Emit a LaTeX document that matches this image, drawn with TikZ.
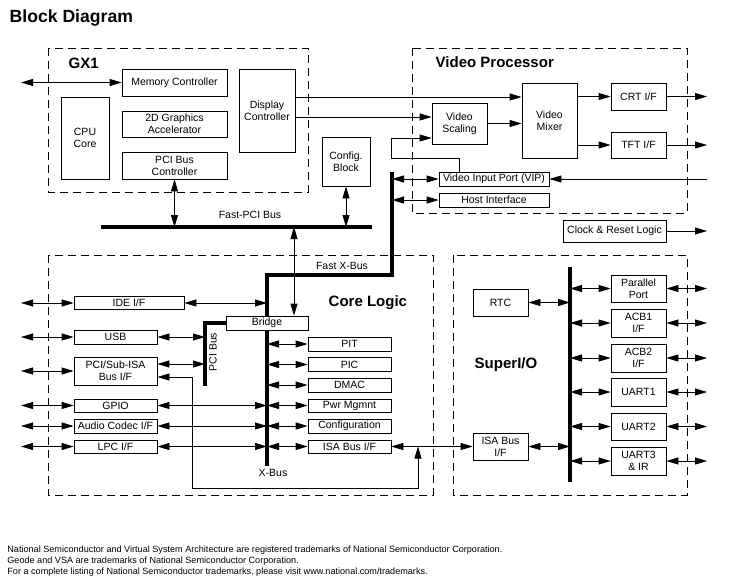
\documentclass[tikz,border=0pt]{standalone}
\usepackage{fontspec}
\setmainfont{Liberation Sans}
\usetikzlibrary{arrows.meta}

\begin{document}
\begin{tikzpicture}[x=1pt,y=-1pt,line width=0.8pt,
  block/.style={draw,fill=white,inner sep=0pt,align=center,font=\fontsize{10.5}{12}\selectfont},
  frame/.style={draw,dash pattern=on 8pt off 5pt},
  bus/.style={line width=4pt},
  head/.style={anchor=base west,font=\fontsize{15}{18}\bfseries},
  lbl/.style={font=\fontsize{10.5}{12}\selectfont},
  >={Triangle[length=12pt,width=7pt]}]
  \useasboundingbox (0,0) rectangle (730,583);
  \node[anchor=base west,font=\fontsize{17.6}{20}\bfseries] (titel) at (6,23) {Block Diagram};
  % frames
  \draw[frame] (48,48) rectangle (308,192);
  \draw[frame] (412,48) rectangle (687,213);
  \draw[frame] (48,255) rectangle (433,495);
  \draw[frame] (453,255) rectangle (687,495);
  \node[head] (gx1) at (65,69) {GX1};
  \node[head] (vp) at (432,68) {Video Processor};
  \node[head] (cl) at (325,306) {Core Logic};
  \node[head] (sio) at (471,368) {SuperI/O};
  % free ends and bus corners
  \coordinate (lft) at (21,0);
  \coordinate (rgt) at (707,0);
  \coordinate (fpci-w) at (101,227);
  \coordinate (fpci-e) at (372,227);
  \coordinate (fb) at (294,227);
  \coordinate (fxb-top) at (392,172);
  \coordinate (fxb-knee) at (392,275);
  \coordinate (xb-knee) at (267,275);
  \coordinate (xb-end) at (267,466);
  \coordinate (pb-start) at (228,323);
  \coordinate (pb-knee) at (205,323);
  \coordinate (pb-end) at (205,386);
  \coordinate (sb-top) at (570,267);
  \coordinate (sb-end) at (570,482);
  \coordinate (dv1) at (295,97);
  \coordinate (dv2) at (295,117);
  \coordinate (vl-a) at (391,138);
  \coordinate (vl-b) at (391,158);
  \coordinate (vl-c) at (459,158);
  \coordinate (ret-b) at (192,488);
  \coordinate (ret-c) at (418,488);
  % buses
  \draw[bus] (fpci-w) -- (fpci-e);
  \draw[bus] (fxb-top) -- (fxb-knee) -- (xb-knee) -- (xb-end);
  \draw[bus] (pb-start) -- (pb-knee) -- (pb-end);
  \draw[bus] (sb-top) -- (sb-end);
  \node[lbl] (fpcilbl) at (250,215) {Fast-PCI Bus};
  \node[lbl] (fxblbl) at (342,266) {Fast X-Bus};
  \node[lbl] (xblbl) at (273,473) {X-Bus};
  \node[lbl,rotate=90] (pblbl) at (213,352) {PCI Bus};
  % GX1
  \node[block,minimum width=105,minimum height=27] (memctl) at (174.5,82.5) {Memory Controller};
  \node[block,minimum width=48,minimum height=82] (cpu) at (85,138) {CPU\\Core};
  \node[block,minimum width=105,minimum height=26] (gfx) at (174.5,124) {2D Graphics\\Accelerator};
  \node[block,minimum width=105,minimum height=27] (pcictl) at (174.5,165.5) {PCI Bus\\Controller};
  \node[block,minimum width=56,minimum height=83] (disp) at (267,110.5) {Display\\Controller};
  \node[block,minimum width=48,minimum height=49] (cfgblk) at (346,161.5) {Config.\\Block};
  % video processor
  \node[block,minimum width=55,minimum height=41] (scal) at (459.5,123.5) {Video\\Scaling};
  \node[block,minimum width=55,minimum height=75] (mix) at (549.5,120.5) {Video\\Mixer};
  \node[block,minimum width=55,minimum height=27] (crt) at (638.5,96.5) {CRT I/F};
  \node[block,minimum width=55,minimum height=26] (tft) at (638.5,145) {TFT I/F};
  \node[block,minimum width=110,minimum height=14] (vip) at (494,179) {Video Input Port (VIP)};
  \node[block,minimum width=110,minimum height=14] (host) at (494,200) {Host Interface};
  \node[block,minimum width=103,minimum height=22] (clk) at (614.5,231) {Clock \& Reset Logic};
  % core logic
  \node[block,minimum width=110,minimum height=13] (ide) at (129,303) {IDE I/F};
  \node[block,minimum width=82,minimum height=14] (bridge) at (267,323) {Bridge};
  \node[block,minimum width=83,minimum height=14] (usb) at (115.5,337) {USB};
  \node[block,minimum width=83,minimum height=28] (pcisub) at (115.5,371) {PCI/Sub-ISA\\Bus I/F};
  \node[block,minimum width=83,minimum height=13] (gpio) at (115.5,405.5) {GPIO};
  \node[block,minimum width=83,minimum height=14] (audio) at (115.5,426) {Audio Codec I/F};
  \node[block,minimum width=83,minimum height=13] (lpc) at (115.5,446.5) {LPC I/F};
  \node[block,minimum width=83,minimum height=14] (pit) at (349.5,344) {PIT};
  \node[block,minimum width=83,minimum height=14] (pic) at (349.5,364.5) {PIC};
  \node[block,minimum width=83,minimum height=14] (dmac) at (349.5,385) {DMAC};
  \node[block,minimum width=83,minimum height=13] (pwr) at (349.5,405.5) {Pwr Mgmnt};
  \node[block,minimum width=83,minimum height=14] (conf) at (349.5,426) {Configuration};
  \node[block,minimum width=83,minimum height=13] (isa) at (349.5,446.5) {ISA Bus I/F};
  \coordinate (ps-up) at ([yshift=7pt]pcisub.east);
  \coordinate (ps-dn) at ([yshift=-6pt]pcisub.east);
  % superI/O
  \node[block,minimum width=55,minimum height=27] (rtc) at (500.5,302.5) {RTC};
  \node[block,minimum width=55,minimum height=27] (sioisa) at (500.5,446.5) {ISA Bus\\I/F};
  \node[block,minimum width=55,minimum height=27] (par) at (638.5,288.5) {Parallel\\Port};
  \node[block,minimum width=55,minimum height=28] (acb1) at (638.5,323) {ACB1\\I/F};
  \node[block,minimum width=55,minimum height=28] (acb2) at (638.5,358) {ACB2\\I/F};
  \node[block,minimum width=55,minimum height=28] (uart1) at (638.5,392) {UART1};
  \node[block,minimum width=55,minimum height=27] (uart2) at (638.5,426.5) {UART2};
  \node[block,minimum width=55,minimum height=28] (uart3) at (638.5,461) {UART3\\\& IR};
  % connectors GX1 and video
  \path[<->]
    (memctl.west) edge (memctl.west -| lft)
    (pcictl.south) edge (pcictl.south |- fpci-w)
    (cfgblk.south) edge (cfgblk.south |- fpci-w)
    (fb) edge (fb |- bridge.north)
    (fxb-top |- vip) edge (vip.west)
    (fxb-top |- host) edge (host.west);
  \path[->]
    (dv1) edge (dv1 -| mix.west)
    (dv2) edge (dv2 -| scal.west)
    (scal.east) edge (scal.east -| mix.west)
    (mix.east |- crt) edge (crt.west)
    (mix.east |- tft) edge (tft.west)
    (crt.east) edge (crt.east -| rgt)
    (tft.east) edge (tft.east -| rgt)
    (clk.east) edge (clk.east -| rgt)
    (vip.east -| rgt) edge (vip.east);
  \draw[->] (vl-c |- vip.north) -- (vl-c) -- (vl-b) -- (vl-a) -- (vl-a -| scal.west);
  % connectors core logic
  \path[<->]
    (ide.west) edge (ide.west -| lft)
    (usb.west) edge (usb.west -| lft)
    (pcisub.west) edge (pcisub.west -| lft)
    (gpio.west) edge (gpio.west -| lft)
    (audio.west) edge (audio.west -| lft)
    (lpc.west) edge (lpc.west -| lft)
    (ide.east) edge (ide.east -| xb-knee)
    (usb.east) edge (usb.east -| pb-end)
    (ps-up) edge (ps-up -| pb-end)
    (gpio.east) edge (gpio.east -| xb-knee)
    (audio.east) edge (audio.east -| xb-knee)
    (lpc.east) edge (lpc.east -| xb-knee)
    (pit.west) edge (pit.west -| xb-knee)
    (pic.west) edge (pic.west -| xb-knee)
    (dmac.west) edge (dmac.west -| xb-knee)
    (pwr.west) edge (pwr.west -| xb-knee)
    (conf.west) edge (conf.west -| xb-knee)
    (isa.west) edge (isa.west -| xb-knee)
    (isa.east) edge (sioisa.west);
  \draw[<->] (ps-dn) -- (ps-dn -| ret-b) -- (ret-b) -- (ret-c) -- (ret-c |- isa);
  % connectors superI/O
  \path[<->]
    (rtc.east) edge (rtc.east -| sb-top)
    (sioisa.east) edge (sioisa.east -| sb-top)
    (par.west) edge (par.west -| sb-top)
    (acb1.west) edge (acb1.west -| sb-top)
    (acb2.west) edge (acb2.west -| sb-top)
    (uart1.west) edge (uart1.west -| sb-top)
    (uart2.west) edge (uart2.west -| sb-top)
    (uart3.west) edge (uart3.west -| sb-top)
    (par.east) edge (par.east -| rgt)
    (acb1.east) edge (acb1.east -| rgt)
    (acb2.east) edge (acb2.east -| rgt)
    (uart1.east) edge (uart1.east -| rgt)
    (uart2.east) edge (uart2.east -| rgt)
    (uart3.east) edge (uart3.east -| rgt);
  % footer
  \node[anchor=north west,align=left,inner sep=0pt,font=\fontsize{9.1}{11.3}\selectfont] (foot) at (7,545)
    {National Semiconductor and Virtual System Architecture are registered trademarks of National Semiconductor Corporation.\\
     Geode and VSA are trademarks of National Semiconductor Corporation.\\
     For a complete listing of National Semiconductor trademarks, please visit www.national.com/trademarks.};
\end{tikzpicture}
\end{document}
